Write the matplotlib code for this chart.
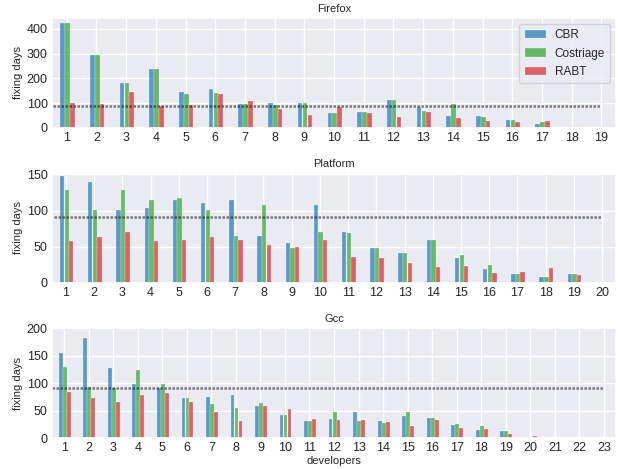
import numpy as np
import matplotlib
matplotlib.use('Agg')
import matplotlib.pyplot as plt
import seaborn as sns

# values (fixing days per developer)
projects = ['Firefox', 'Platform', 'Gcc']
methods = ['CBR', 'Costriage', 'RABT']

firefox_cbr = [424, 295, 182, 238, 143, 158, 97, 101, 101, 62, 66, 112, 86, 46, 47, 32, 16, 0, 0]
firefox_cos = [424, 295, 182, 238, 136, 139, 97, 92, 101, 61, 65, 112, 67, 97, 44, 32, 22, 0, 0]
firefox_rabt = [101, 97, 144, 87, 94, 136, 108, 77, 53, 85, 59, 44, 63, 39, 27, 22, 28, 3, 0]
firefox_avg = 88

platform_cbr = [148, 140, 101, 104, 114, 110, 114, 65, 55, 107, 71, 48, 41, 59, 35, 19, 12, 8, 13, 0]
platform_cos = [128, 101, 128, 114, 118, 101, 65, 107, 48, 71, 69, 48, 41, 59, 38, 25, 12, 8, 13, 0]
platform_rabt = [58, 64, 71, 58, 60, 64, 60, 52, 49, 60, 36, 35, 27, 22, 24, 14, 15, 21, 11, 0]
platform_avg = 90.5

gcc_cbr = [155, 182, 128, 98, 91, 72, 74, 78, 58, 42, 31, 35, 47, 31, 40, 37, 23, 15, 13, 1, 0.6, 0, 0]
gcc_cos = [129, 92, 91, 124, 98, 72, 61, 54, 64, 42, 31, 47, 31, 27, 47, 37, 26, 22, 12, 0.5, 0, 0, 0]
gcc_rabt = [84, 73, 65, 79, 82, 65, 47, 31, 59, 53, 34, 32, 32, 29, 22, 33, 18, 17, 8, 3.5, 0.6, 0, 0]
gcc_avg = 91

series = [
    (firefox_cbr, firefox_cos, firefox_rabt, firefox_avg),
    (platform_cbr, platform_cos, platform_rabt, platform_avg),
    (gcc_cbr, gcc_cos, gcc_rabt, gcc_avg),
]
y_limits = [445, 152, 200]
y_steps = [100, 50, 50]

sns.set_theme(style='darkgrid')
plt.rcParams['font.family'] = ['Liberation Sans', 'DejaVu Sans']

colors = ['tab:blue', 'tab:green', 'tab:red']
offsets = [-0.14, 0.025, 0.185]
width = 0.155

fig, axes = plt.subplots(3, 1, figsize=(6.18, 4.69), dpi=100)
fig.subplots_adjust(left=0.084, right=0.997, top=0.962, bottom=0.066, hspace=0.41)

for ax, name, data, ymax, step in zip(axes, projects, series, y_limits, y_steps):
    n = len(data[0])
    x = np.arange(1, n + 1)
    for vals, off, col, lab in zip(data[:3], offsets, colors, methods):
        ax.bar(x + off, vals, width=width, color=col, alpha=0.7,
               edgecolor='white', linewidth=0.25, label=lab)
    # average line
    ax.hlines(data[3], 0, n, colors='k', linestyles=(0, (1, 0.6)),
              linewidth=1.8, alpha=0.55)
    ax.set_xlim(0.5, n + 0.5)
    ax.set_ylim(0, ymax)
    ax.set_xticks(x)
    ax.set_yticks(np.arange(0, ymax + 1, step))
    ax.tick_params(labelsize=9, length=0, pad=3)
    ax.set_ylabel('fixing days', fontsize=8, labelpad=3)
    ax.set_title(name, fontsize=8, pad=4)

axes[0].legend(loc='upper right', fontsize=8.5, handlelength=1.8,
               borderpad=0.45, labelspacing=0.55, handletextpad=0.75)
axes[2].set_xlabel('developers', fontsize=8, labelpad=1)

plt.savefig('out.png', dpi=100)
